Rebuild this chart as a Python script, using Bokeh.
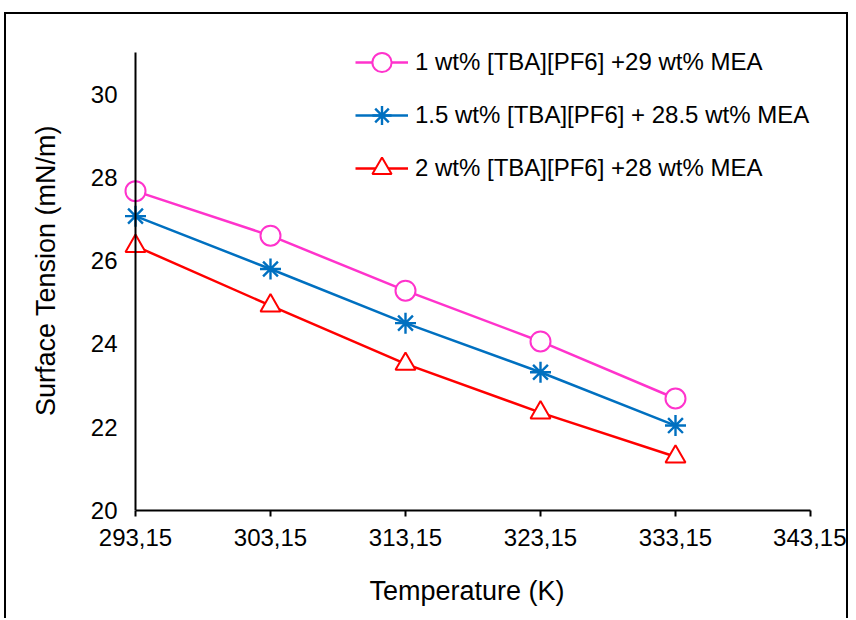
from bokeh.plotting import figure
from bokeh.models import Range1d, FixedTicker, Legend, LegendItem, LinearAxis
from bokeh.embed import file_html
from bokeh.resources import INLINE

temperature = [293.15, 303.15, 313.15, 323.15, 333.15]
x_ticks = [293.15, 303.15, 313.15, 323.15, 333.15, 343.15]
x_tick_labels = ["293,15", "303,15", "313,15", "323,15", "333,15", "343,15"]
y_ticks = [20, 22, 24, 26, 28, 30]

st_1wt = [27.67, 26.60, 25.28, 24.06, 22.69]
st_15wt = [27.07, 25.80, 24.50, 23.32, 22.04]
st_2wt = [26.35, 24.92, 23.52, 22.35, 21.29]

labels = ["1 wt% [TBA][PF6] +29 wt% MEA",
          "1.5 wt% [TBA][PF6] + 28.5 wt% MEA",
          "2 wt% [TBA][PF6] +28 wt% MEA"]
colors = ["#FF33CC", "#0070C0", "#FF0000"]
markers = ["circle", "asterisk", "triangle"]

FONT = "Liberation Sans"
X0, X1 = 293.15, 343.15
Y0, Y1 = 20, 31
PX_X = 675 / (X1 - X0)
PX_Y = 458 / (Y1 - Y0)

p = figure(width=844, height=606, output_backend="svg", toolbar_location=None,
           x_range=Range1d(X0 - 12 / PX_X, X1),
           y_range=Range1d(Y0, Y0 + 480 / PX_Y),
           min_border_left=117, min_border_right=40, min_border_top=16,
           min_border_bottom=110)
p.styles = {"margin-left": "4px", "margin-top": "12px",
            "border-left": "2px solid black", "border-top": "2px solid black",
            "border-right": "2px solid black"}
p.outline_line_color = None
p.grid.visible = False
p.background_fill_color = "white"
p.border_fill_color = "white"

items = []
for ys, c, m, lab in zip([st_1wt, st_15wt, st_2wt], colors, markers, labels):
    r1 = p.line(temperature, ys, line_color=c, line_width=2.5)
    size = {"circle": 20, "asterisk": 21, "triangle": 20}[m]
    lw = 2.4 if m == "asterisk" else 2
    r2 = p.scatter(temperature, ys, marker=m, size=size, line_color=c,
                   fill_color="white", line_width=lw)
    items.append(LegendItem(label=lab, renderers=[r1, r2]))

legend = Legend(items=items, location=(232, 318), orientation="vertical",
                glyph_width=53, glyph_height=48, label_height=48, spacing=5,
                padding=0, margin=0, label_standoff=7,
                label_text_font=FONT, label_text_font_size="24px",
                label_text_color="black", border_line_alpha=0,
                background_fill_alpha=0)
p.add_layout(legend)

xa = p.xaxis[0]
xa.ticker = FixedTicker(ticks=x_ticks)
xa.major_label_overrides = {t: l for t, l in zip(x_ticks, x_tick_labels)}
xa.bounds = (X0, X1)
xa.axis_label = "Temperature (K)"
xa.minor_tick_line_color = None
xa.major_tick_in = 0
xa.major_tick_out = 6
xa.major_tick_line_width = 2
xa.axis_line_width = 2
xa.major_label_standoff = 12
xa.axis_label_standoff = 27

# labels and title of the y axis (at the frame edge)
ya = p.yaxis[0]
ya.ticker = FixedTicker(ticks=y_ticks)
ya.axis_label = "Surface Tension (mN/m)"
ya.minor_tick_line_color = None
ya.major_tick_in = 0
ya.major_tick_out = 0
ya.axis_line_color = None
ya.major_label_standoff = 6
ya.axis_label_standoff = 27

for ax in (xa, ya):
    ax.major_label_text_font = FONT
    ax.major_label_text_font_size = "24px"
    ax.major_label_text_color = "black"
    ax.axis_label_text_font = FONT
    ax.axis_label_text_font_size = "27px"
    ax.axis_label_text_font_style = "normal"
    ax.axis_label_text_color = "black"
xa.axis_line_color = "black"
xa.major_tick_line_color = "black"

# the y axis line itself, drawn at x = 293.15
yline = LinearAxis(ticker=FixedTicker(ticks=[]), fixed_location=X0,
                   bounds=(Y0, Y1), axis_line_color="black", axis_line_width=2,
                   major_tick_in=0, major_tick_out=0, minor_tick_in=0,
                   minor_tick_out=0)
p.add_layout(yline, "left")

open("out.html", "w").write(file_html(p, INLINE))
